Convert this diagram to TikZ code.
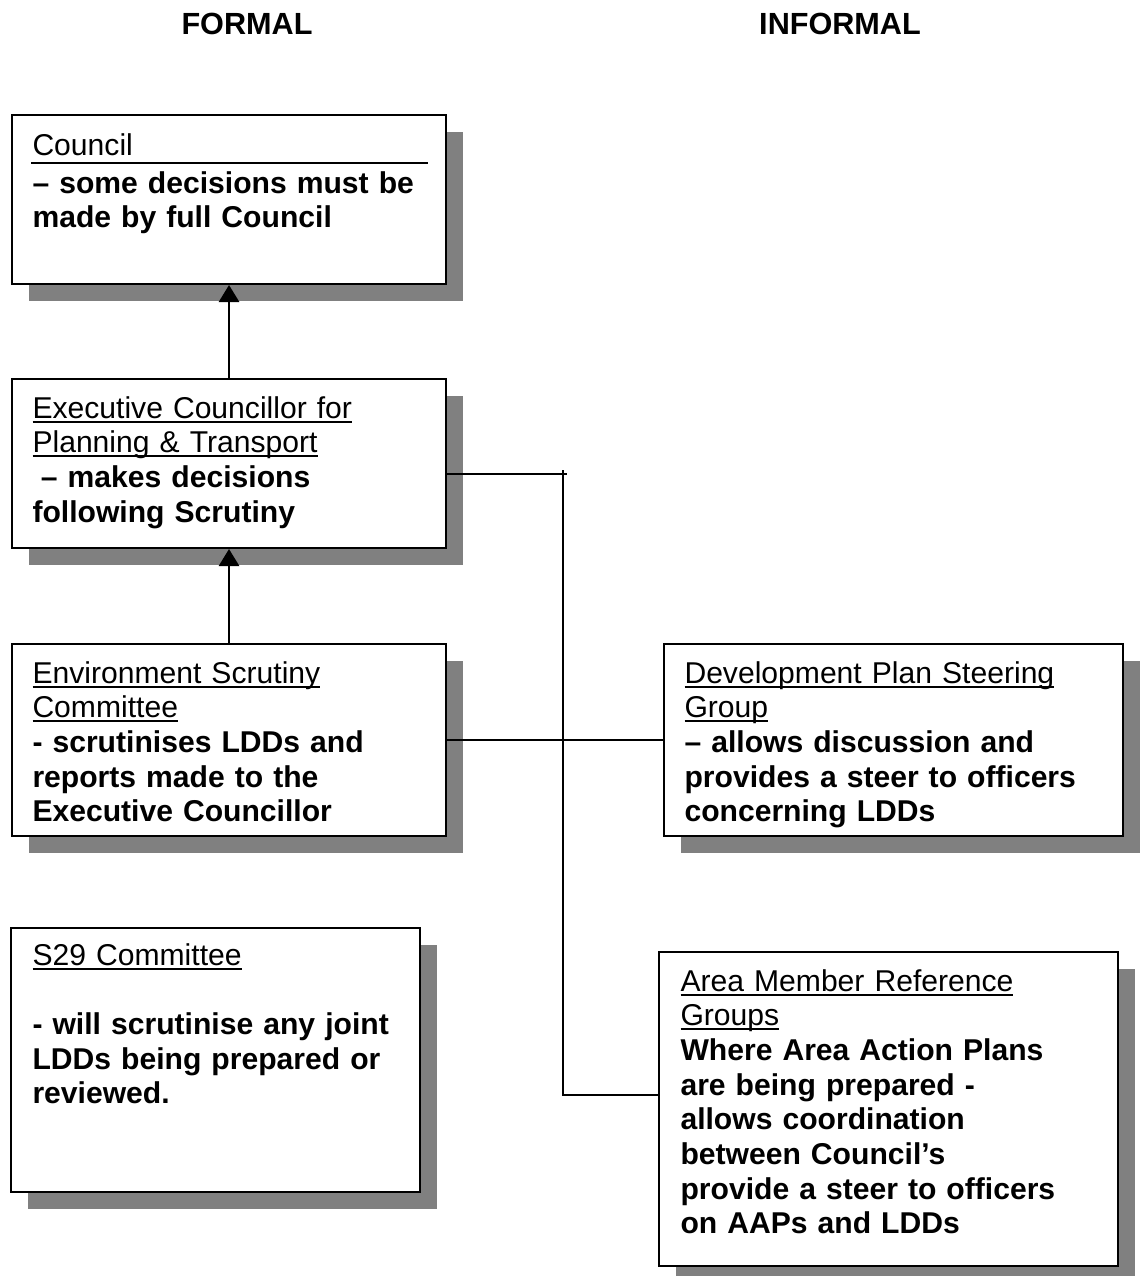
\documentclass[tikz,border=0pt]{standalone}
\usepackage{fontspec}
\setmainfont{Liberation Sans}
\usepackage{xcolor}
\usepackage{tikz}
\usetikzlibrary{arrows.meta,calc,shadows}
\definecolor{orgInk}{HTML}{000000}
\definecolor{orgShade}{HTML}{808080}
\newcommand{\hdr}[1]{\leavevmode\setbox0=\hbox{#1}\rlap{\rule[-1.8pt]{\wd0}{0.8pt}}\box0}
\tikzset{
  orgbox/.style={draw=orgInk, line width=0.8pt, fill=white, anchor=north west, inner sep=0pt,
                 drop shadow={shadow xshift=6.7pt, shadow yshift=-6.7pt, fill=orgShade, opacity=1}},
  orgtext/.style={anchor=base west, inner sep=0pt, align=left, text width=190pt, text=orgInk,
                  font=\fontsize{11.8}{13.6}\selectfont},
  orghead/.style={anchor=base, inner sep=0pt, text=orgInk, font=\fontsize{12}{13.6}\selectfont\bfseries},
  uparr/.style={-{Triangle[length=6.7pt,width=8pt]}, line width=0.8pt, draw=orgInk},
  orglink/.style={line width=0.8pt, draw=orgInk},
}

\begin{document}
\begin{tikzpicture}[x=0.392pt, y=-0.392pt]
    \useasboundingbox (0,0) rectangle (1139,1276);
    \node[orghead] (formal) at (247,35) {FORMAL};
    \node[orghead] (informal) at (840,35) {INFORMAL};
    % formal side
    \node[orgbox, minimum width=434*0.392pt, minimum height=169*0.392pt] (council) at (11,114) {};
    \node[orgbox, minimum width=434*0.392pt, minimum height=169*0.392pt] (exec) at (11,378) {};
    \node[orgbox, minimum width=434*0.392pt, minimum height=192*0.392pt] (env) at (11,643) {};
    \node[orgbox, minimum width=409*0.392pt, minimum height=264*0.392pt] (s29) at (10,927) {};
    % informal side
    \node[orgbox, minimum width=459*0.392pt, minimum height=192*0.392pt] (dev) at (663,643) {};
    \node[orgbox, minimum width=459*0.392pt, minimum height=314*0.392pt] (area) at (658,951) {};
    % texts
    \node[orgtext] (counciltxt) at ($(council.north west)+(21,41)$)
      {Council\\[1.4pt]\bfseries – some decisions must be\\made by full Council};
    \draw[orglink] ($(council.north west)+(20,49)$) -- ($(council.north east)+(-19,49)$);
    \node[orgtext] (exectxt) at ($(exec.north west)+(21,40)$)
      {\hdr{Executive Councillor for}\\\hdr{Planning \& Transport}\\\bfseries\hspace*{.28em}– makes decisions\\following Scrutiny};
    \node[orgtext] (envtxt) at ($(env.north west)+(21,40)$)
      {\hdr{Environment Scrutiny}\\\hdr{Committee}\\\bfseries - scrutinises LDDs and\\reports made to the\\Executive Councillor};
    \node[orgtext] (s29txt) at ($(s29.north west)+(22,38)$)
      {\hdr{S29 Committee}\\[13.6pt]\bfseries - will scrutinise any joint\\LDDs being prepared or\\reviewed.};
    \node[orgtext] (devtxt) at ($(dev.north west)+(21,40)$)
      {\hdr{Development Plan Steering}\\\hdr{Group}\\\bfseries – allows discussion and\\provides a steer to officers\\concerning LDDs};
    \node[orgtext] (areatxt) at ($(area.north west)+(22,40)$)
      {\hdr{Area Member Reference}\\\hdr{Groups}\\\bfseries Where Area Action Plans\\are being prepared -\\allows coordination\\between Council’s\\provide a steer to officers\\on AAPs and LDDs};
    % connectors
    \coordinate (jtop) at (563,474);
    \coordinate (jtick) at (563,470);
    \coordinate (jend) at (567,474);
    \coordinate (jbot) at (563,1095);
    \draw[uparr] (exec) -- (council);
    \draw[uparr] (env) -- (exec);
    \draw[orglink] (env) -- (dev);
    \draw[orglink] (exec.east |- jtop) -- (jend);
    \draw[orglink] (jtick) -- (jbot) -- (jbot -| area.west);
  \end{tikzpicture}
\end{document}
